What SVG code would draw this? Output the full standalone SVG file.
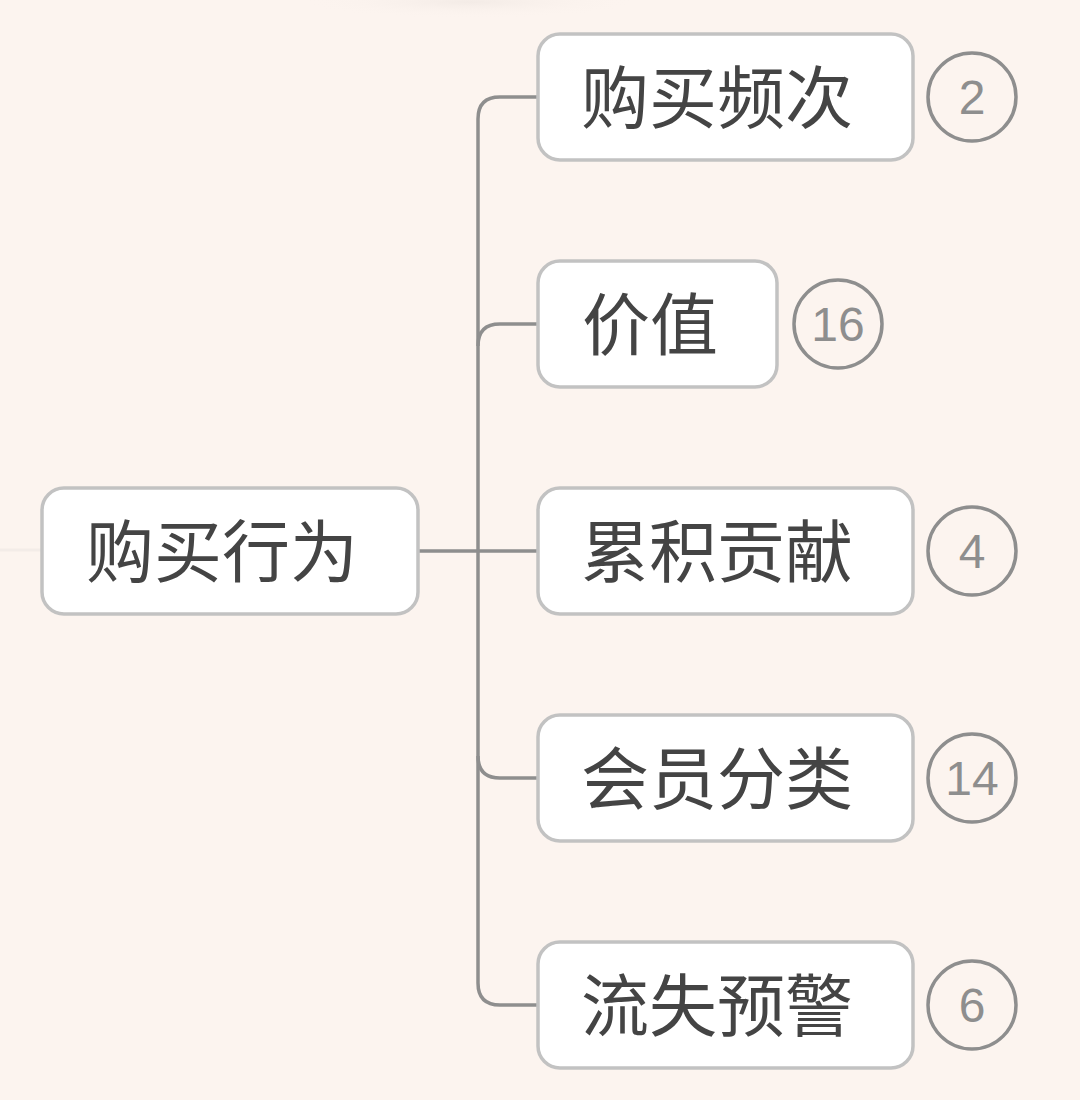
<svg xmlns="http://www.w3.org/2000/svg" width="1080" height="1100" viewBox="0 0 1080 1100">
<defs>
<style>
.node rect{fill:#ffffff;stroke:#c2c2c2;stroke-width:3.5}
.node text{font-family:"Noto Sans CJK SC","Noto Sans",sans-serif;font-size:68px;fill:#444444;text-anchor:middle;dominant-baseline:central}
.badge circle{fill:none;stroke:#8e8e8e;stroke-width:3.5}
.badge text{font-family:"Liberation Sans",Arial,sans-serif;font-size:48px;fill:#8e8e8e;text-anchor:middle;dominant-baseline:central}
.conn path{fill:none;stroke:#8e8e8e;stroke-width:3.5}
</style>
<radialGradient id="shade" cx="0.5" cy="0.5" r="0.5">
<stop offset="0" stop-color="#f3ebe6"/>
<stop offset="1" stop-color="#fcf4ef" stop-opacity="0"/>
</radialGradient>
</defs>
<rect width="1080" height="1100" fill="#fcf4ef"/>
<ellipse cx="470" cy="2" rx="170" ry="16" fill="url(#shade)"/>
<path d="M0 550 H42" stroke="#f3ece8" stroke-width="3"/>
<g class="conn">
<path d="M418 551 H538"/>
<path d="M538 97 H500 Q478 97 478 119 V983 Q478 1005 500 1005 H538"/>
<path d="M538 324 H500 Q478 324 478 346"/>
<path d="M538 778 H500 Q478 778 478 756"/>
</g>
<g id="root" class="node"><rect x="42" y="488" width="376" height="126" rx="22"/><text x="222" y="547">购买行为</text></g>
<g id="n1" class="node"><rect x="538" y="34" width="375" height="126" rx="22"/><text x="717" y="93">购买频次</text></g>
<g id="n2" class="node"><rect x="538" y="261" width="239" height="126" rx="22"/><text x="650" y="320">价值</text></g>
<g id="n3" class="node"><rect x="538" y="488" width="375" height="126" rx="22"/><text x="717" y="547">累积贡献</text></g>
<g id="n4" class="node"><rect x="538" y="715" width="375" height="126" rx="22"/><text x="717" y="774">会员分类</text></g>
<g id="n5" class="node"><rect x="538" y="942" width="375" height="126" rx="22"/><text x="717" y="1001">流失预警</text></g>
<g id="b1" class="badge"><circle cx="972" cy="97" r="44"/><text x="972" y="97">2</text></g>
<g id="b2" class="badge"><circle cx="838" cy="324" r="44"/><text x="838" y="324">16</text></g>
<g id="b3" class="badge"><circle cx="972" cy="551" r="44"/><text x="972" y="551">4</text></g>
<g id="b4" class="badge"><circle cx="972" cy="778" r="44"/><text x="972" y="778">14</text></g>
<g id="b5" class="badge"><circle cx="972" cy="1005" r="44"/><text x="972" y="1005">6</text></g>
</svg>
